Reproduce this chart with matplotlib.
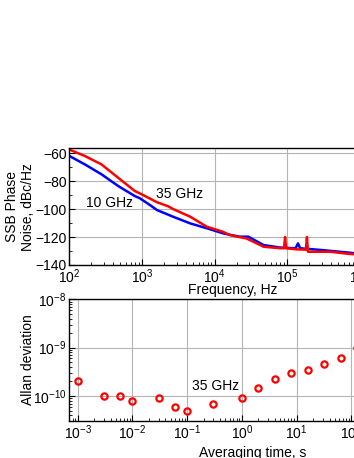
import matplotlib
matplotlib.use("Agg")
import matplotlib.pyplot as plt
from matplotlib.ticker import LogLocator, MultipleLocator, NullFormatter

plt.rcParams['font.family'] = ['Liberation Sans', 'DejaVu Sans']
plt.rcParams['mathtext.default'] = 'regular'
plt.rcParams['font.size'] = 10

# phase noise
f_10 = [100, 163, 276, 469, 795, 933, 1350, 1600, 2300, 2700, 4600, 7800, 13000, 16000,
        22000, 29000, 47000, 79000, 130000, 140000, 150000, 300000, 720000, 1000000]
L_10 = [-61.9, -67.9, -75.0, -83.4, -90.6, -92.2, -97.8, -100.6, -104.0, -105.5, -110.2,
        -113.7, -117.3, -118.3, -119.7, -119.7, -125.7, -127.5, -128.0, -124.5, -128.0,
        -129.3, -131.2, -132.0]

f_35 = [100, 163, 276, 469, 795, 1000, 1350, 1600, 2300, 2700, 4600, 7800, 13000, 16000,
        22000, 27500, 47000, 79000, 90000, 93000, 96000, 135000, 180000, 186000, 192000,
        390000, 720000, 1000000]
L_35 = [-57.3, -61.9, -67.9, -77.5, -87.0, -89.5, -93.0, -95.0, -98.0, -100.0, -105.4,
        -112.6, -116.2, -118.5, -120.0, -121.0, -126.9, -128.0, -128.0, -120.0, -128.0,
        -128.8, -129.0, -120.0, -130.5, -130.5, -132.1, -132.5]

# Allan deviation, 35 GHz
tau = [1e-3, 3e-3, 6e-3, 1e-2, 3e-2, 6e-2, 1e-1, 3e-1, 1, 2, 4, 8, 16, 32, 64, 128]
adev = [2e-10, 1e-10, 1e-10, 8e-11, 9e-11, 6e-11, 5e-11, 7e-11, 9e-11, 1.45e-10,
        2.2e-10, 3e-10, 3.5e-10, 4.6e-10, 6e-10, 1e-9]

fig = plt.figure(figsize=(3.54, 4.58), dpi=100)

ax1 = fig.add_axes([0.196, 0.4214, 0.821, 0.2548])
ax1.plot(f_10, L_10, color='#0000ff', lw=1.8)
ax1.plot(f_35, L_35, color='#ff0000', lw=1.8)
ax1.set_xscale('log')
ax1.set_xlim(1e2, 1e6)
ax1.set_ylim(-140, -56.4)
ax1.yaxis.set_major_locator(MultipleLocator(20))
ax1.yaxis.set_minor_locator(MultipleLocator(10))
ax1.set_xlabel('Frequency, Hz')
ax1.set_ylabel('SSB Phase\nNoise, dBc/Hz')
ax1.xaxis.set_label_coords(0.563, -0.15)
ax1.yaxis.set_label_coords(-0.117, 0.5)
ax1.text(352, -95.4, '10 GHz', ha='center', va='center')
ax1.text(3300, -89.4, '35 GHz', ha='center', va='center')

ax2 = fig.add_axes([0.196, 0.0814, 0.821, 0.2651])
ax2.plot(tau, adev, 'o', mfc='none', mec='#ff0000', ms=4.5, mew=1.6)
ax2.set_xscale('log')
ax2.set_yscale('log')
ax2.set_xlim(10 ** -3.154, 10 ** 2.16)
ax2.set_ylim(10 ** -10.51, 1e-8)
ax2.set_xlabel('Averaging time, s')
ax2.set_ylabel('Allan deviation')
ax2.xaxis.set_label_coords(0.632, -0.21)
ax2.yaxis.set_label_coords(-0.117, 0.5)
ax2.text(0.333, 1.65e-10, '35 GHz', ha='center', va='center')

for ax in (ax1, ax2):
    ax.grid(True, which='major', color='#b4b4b4', lw=0.8)
    ax.tick_params(which='both', direction='in', top=False, right=False)
    ax.tick_params(which='major', length=4, pad=2)
    ax.tick_params(which='minor', length=2)
    ax.xaxis.set_minor_locator(LogLocator(base=10, subs=range(2, 10), numticks=20))
    ax.xaxis.set_minor_formatter(NullFormatter())
    for s in ax.spines.values():
        s.set_linewidth(1.0)
    ax.set_axisbelow(True)
ax2.yaxis.set_minor_locator(LogLocator(base=10, subs=range(2, 10), numticks=20))
ax2.yaxis.set_minor_formatter(NullFormatter())

fig.savefig('out.png', dpi=100)
